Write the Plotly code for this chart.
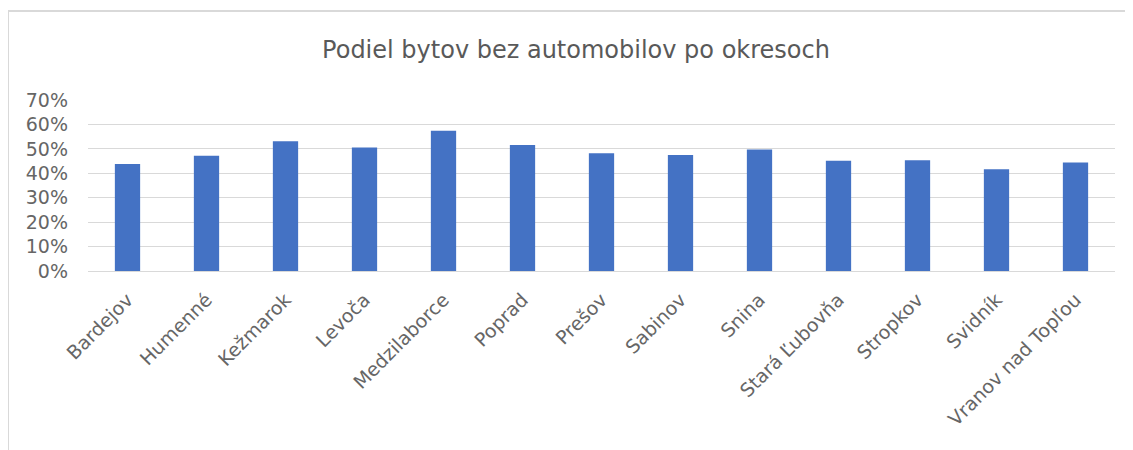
import plotly.graph_objects as go

categories = ["Bardejov", "Humenné", "Kežmarok", "Levoča", "Medzilaborce", "Poprad",
              "Prešov", "Sabinov", "Snina", "Stará Ľubovňa", "Stropkov", "Svidník",
              "Vranov nad Topľou"]
values = [0.438, 0.472, 0.531, 0.506, 0.574, 0.516, 0.482, 0.475, 0.497, 0.451, 0.453, 0.417, 0.444]
y_ticks = [0, 0.1, 0.2, 0.3, 0.4, 0.5, 0.6, 0.7]
y_tick_labels = ["0%", "10%", "20%", "30%", "40%", "50%", "60%", "70%"]
title_text = "Podiel bytov bez automobilov po okresoch"

# page body has an 8px margin; figure coordinates = screen - 8
OFF = 8
W, H = 1133 - OFF, 450 - OFF
L, T = 88 - OFF, 100 - OFF
R = W - (1115 - OFF)
B = H - (271 - OFF)
pw, ph = W - L - R, H - T - B

def px_x(p):
    return (p - OFF - L) / pw

def px_y(p):
    return (H - B - (p - OFF)) / ph

FONT = "DejaVu Sans"
GRAY = "#595959"
TICK_GRAY = "#666666"

fig = go.Figure(go.Bar(x=categories, y=values, marker_color="#4472C4", marker_line_width=0))

fig.update_layout(
    width=W, height=H,
    margin=dict(l=L, r=R, t=T, b=B),
    paper_bgcolor="white", plot_bgcolor="white",
    bargap=0.68,
    showlegend=False,
    font=dict(family=FONT, color=GRAY, size=19),
    title=dict(text=title_text, x=(576 - OFF) / W, xanchor="center",
               y=1 - (50 - OFF) / H, yanchor="middle",
               font=dict(family=FONT, size=24, color=GRAY)),
    xaxis=dict(tickangle=-45, showgrid=False, showline=False, ticks="",
               ticklabelstandoff=13, tickfont=dict(size=19, color=TICK_GRAY)),
    yaxis=dict(range=[0, 0.7], tickvals=y_ticks, ticktext=y_tick_labels,
               showgrid=True, gridcolor="#d9d9d9", gridwidth=1, zeroline=True,
               zerolinecolor="#d9d9d9", zerolinewidth=1, showline=False, ticks="",
               ticklabelstandoff=19, tickfont=dict(size=19, color=TICK_GRAY)),
    shapes=[
        dict(type="line", xref="paper", yref="paper", x0=px_x(8), x1=px_x(8), y0=px_y(470), y1=px_y(11),
             line=dict(color="#d9d9d9", width=2)),
        dict(type="line", xref="paper", yref="paper", x0=px_x(8), x1=px_x(1150), y0=px_y(11), y1=px_y(11),
             line=dict(color="#d9d9d9", width=2)),
    ],
)

fig.write_html("out.html")
